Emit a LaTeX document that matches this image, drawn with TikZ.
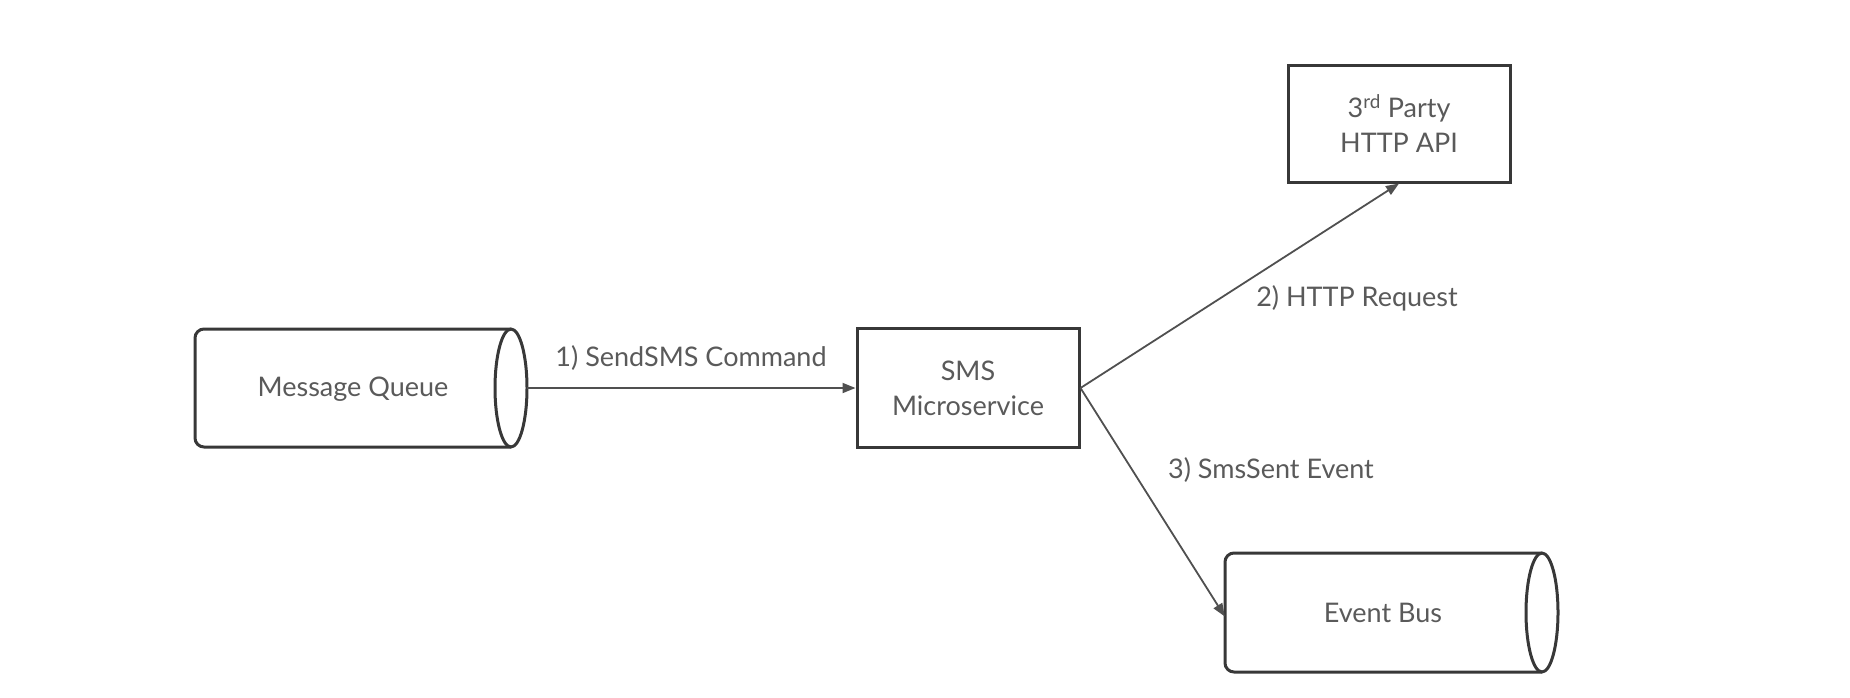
\documentclass[tikz,border=0pt]{standalone}
\usepackage{fontspec}
\setmainfont{Lato}
\usetikzlibrary{arrows.meta}
\definecolor{strokec}{HTML}{383838}
\definecolor{linec}{HTML}{505050}
\definecolor{textc}{HTML}{5A5A5A}
\begin{document}
\begin{tikzpicture}[x=1pt,y=-1pt,
  shapeline/.style={draw=strokec,line width=3pt,line join=round},
  boxnode/.style={draw=strokec,line width=3pt,rectangle,inner sep=0pt,align=center,text=textc,font=\fontsize{27}{35}\selectfont},
  anchorbox/.style={rectangle,inner sep=0pt},
  lbl/.style={text=textc,font=\fontsize{27}{30}\selectfont,inner sep=0pt},
  conn/.style={draw=linec,line width=1.8pt,-{Triangle[length=13pt,width=10pt]}}]
\useasboundingbox (0,0) rectangle (1850,697);
% Message Queue cylinder
\node[anchorbox,minimum width=332pt,minimum height=118pt] (mq) at (361,388) {};
\draw[shapeline,rounded corners=9pt] (511,329) -- (195,329) -- (195,447) -- (511,447);
\draw[shapeline] (511,388) ellipse [x radius=16, y radius=59];
\node[lbl] (mqt) at (353,389) {Message Queue};
% SMS Microservice
\node[boxnode,minimum width=222pt,minimum height=119pt] (sms) at (968,388) {SMS\\Microservice};
% 3rd Party HTTP API
\node[boxnode,minimum width=222pt,minimum height=117pt] (api) at (1399,123.5) {3\textsuperscript{rd} Party\\HTTP API};
% Event Bus cylinder
\node[anchorbox,minimum width=333pt,minimum height=119pt] (eb) at (1391.5,612.5) {};
\draw[shapeline,rounded corners=9pt] (1542,553) -- (1225,553) -- (1225,672) -- (1542,672);
\draw[shapeline] (1542,612.5) ellipse [x radius=16, y radius=59.5];
\node[lbl] (ebt) at (1383,613) {Event Bus};
% connectors
\draw[conn] (mq.east) -- (sms.west);
\draw[conn] (sms.east) -- (api.south);
\draw[conn] (sms.east) -- ([yshift=-4pt]eb.west);
% labels
\node[lbl] (l1) at (691,358) {1) SendSMS Command};
\node[lbl] (l2) at (1357,298) {2) HTTP Request};
\node[lbl] (l3) at (1271,470) {3) SmsSent Event};
\end{tikzpicture}
\end{document}
